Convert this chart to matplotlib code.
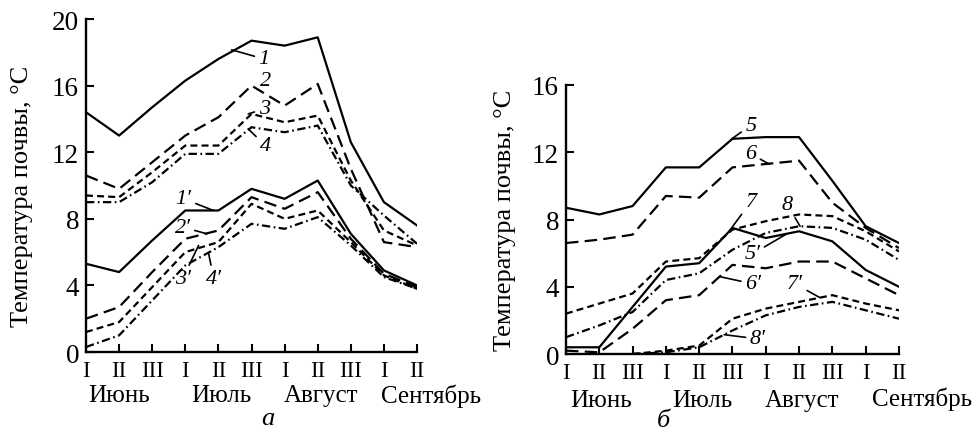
import numpy as np
import matplotlib
matplotlib.use("Agg")
import matplotlib.pyplot as plt

plt.rcParams['font.family'] = ['Liberation Serif', 'DejaVu Serif']
plt.rcParams['lines.scale_dashes'] = False

# decades of each month (x axis)
decades = ["I", "II", "III", "I", "II", "III", "I", "II", "III", "I", "II"]
months = ["Июнь", "Июль", "Август", "Сентябрь"]

# panel a: soil temperature, °C
a_1 = [14.4, 13.0, 14.7, 16.3, 17.6, 18.7, 18.4, 18.9, 12.6, 9.0, 7.6]
a_2 = [10.6, 9.8, 11.4, 13.0, 14.1, 16.0, 14.8, 16.1, 11.0, 6.6, 6.3]
a_3 = [9.4, 9.3, 10.8, 12.4, 12.4, 14.3, 13.8, 14.2, 10.3, 7.3, 6.4]
a_4 = [9.0, 9.0, 10.2, 11.9, 11.9, 13.5, 13.2, 13.6, 10.0, 8.2, 6.5]
a_1p = [5.3, 4.8, 6.7, 8.5, 8.5, 9.8, 9.2, 10.3, 7.1, 4.9, 4.0]
a_2p = [2.0, 2.7, 4.8, 6.8, 7.3, 9.3, 8.6, 9.6, 6.8, 4.7, 3.9]
a_3p = [1.2, 1.8, 3.9, 6.0, 6.6, 8.9, 8.0, 8.5, 6.6, 4.6, 3.8]
a_4p = [0.3, 1.0, 3.1, 5.2, 6.3, 7.7, 7.4, 8.1, 6.4, 4.5, 3.8]

# panel b
b_5 = [8.7, 8.3, 8.8, 11.1, 11.1, 12.8, 12.9, 12.9, 10.3, 7.6, 6.6]
b_6 = [6.6, 6.8, 7.1, 9.4, 9.3, 11.1, 11.3, 11.5, 9.0, 7.5, 6.3]
b_7 = [2.4, 3.0, 3.6, 5.5, 5.7, 7.4, 7.9, 8.3, 8.2, 7.3, 6.1]
b_8 = [1.0, 1.7, 2.5, 4.4, 4.8, 6.2, 7.2, 7.6, 7.5, 6.8, 5.6]
b_5p = [0.4, 0.4, 2.8, 5.2, 5.4, 7.5, 6.9, 7.3, 6.7, 5.0, 4.0]
b_6p = [0.2, 0.1, 1.5, 3.2, 3.5, 5.3, 5.1, 5.5, 5.5, 4.5, 3.5]
b_7p = [np.nan, np.nan, 0.0, 0.2, 0.5, 2.1, 2.7, 3.1, 3.5, 3.0, 2.6]
b_8p = [np.nan, np.nan, 0.0, 0.1, 0.4, 1.4, 2.3, 2.8, 3.1, 2.6, 2.1]

x = np.arange(len(decades))

solid = None
long_dash = (9, 4.5)
dash = (5, 3)
dash_dot = (6, 2.5, 1.2, 2.5)
styles = [solid, long_dash, dash, dash_dot]

fig = plt.figure(figsize=(9.73, 4.35), dpi=100)
ax_a = fig.add_axes([0.0884, 0.1885, 0.3402, 0.7655])
ax_b = fig.add_axes([0.5817, 0.1839, 0.3422, 0.6184])


def draw(ax, series, ymax):
    for i, ys in enumerate(series):
        st = styles[i % 4]
        if st is None:
            ax.plot(x, ys, color='black', lw=1.6)
        else:
            ax.plot(x, ys, color='black', lw=1.6, dashes=st)
    ax.set_xlim(0, 10)
    ax.set_ylim(0, ymax)
    ax.set_yticks(np.arange(0, ymax + 1, 4))
    ax.set_xticks(x)
    ax.set_xticklabels(decades)
    for s in ['top', 'right']:
        ax.spines[s].set_visible(False)
    for s in ['left', 'bottom']:
        ax.spines[s].set_linewidth(1.7)
    ax.tick_params(direction='in', length=6, width=1.5, labelsize=19.5, pad=5)
    ax.tick_params(axis='x', labelsize=16.5, pad=6)


draw(ax_a, [a_1, a_2, a_3, a_4, a_1p, a_2p, a_3p, a_4p], 20)
draw(ax_b, [b_5, b_6, b_7, b_8, b_5p, b_6p, b_7p, b_8p], 16)

# month names under the decades
for ax, off, month_x in [(ax_a, -31, [1, 4.1, 7.1]), (ax_b, -33, [1.05, 4.1, 7.1])]:
    for m, mx in zip(months[:3], month_x):
        ax.annotate(m, xy=(mx, 0), xycoords=('data', 'axes fraction'),
                    xytext=(0, off), textcoords='offset points',
                    ha='center', va='center', fontsize=18)
ax_a.annotate(months[3], xy=(8.9, 0), xycoords=('data', 'axes fraction'),
              xytext=(0, -31), textcoords='offset points',
              ha='left', va='center', fontsize=18)
fig.text(972 / 973, 1 - 399 / 435, months[3], ha='right', va='center', fontsize=18)

fig.text(22 / 973, 1 - 196 / 435, "Температура почвы, °C", rotation=90,
         ha='center', va='center', fontsize=19)
fig.text(505 / 973, 1 - 220 / 435, "Температура почвы, °C", rotation=90,
         ha='center', va='center', fontsize=19)
fig.text(268 / 973, 1 - 419 / 435, "а", style='italic', ha='center', va='center', fontsize=19)
fig.text(663 / 973, 1 - 421 / 435, "б", style='italic', ha='center', va='center', fontsize=19)

# curve labels with leader lines
lab_kw = dict(fontsize=16, style='italic', ha='center', va='center',
              arrowprops=dict(arrowstyle='-', lw=1.2, color='black', shrinkA=1, shrinkB=0))
labels_a = [("1", (4.40, 18.15), (5.38, 17.6)),
            ("3", (4.90, 14.3), (5.38, 14.6)),
            ("4", (4.90, 13.4), (5.42, 12.4)),
            ("1′", (3.85, 8.5), (2.95, 9.2)),
            ("2′", (3.65, 7.1), (2.92, 7.5)),
            ("3′", (3.40, 6.4), (2.92, 4.4)),
            ("4′", (3.70, 5.95), (3.86, 4.4))]
for t, xy, xyt in labels_a:
    ax_a.annotate(t, xy=xy, xytext=xyt, **lab_kw)
ax_a.text(5.42, 16.3, "2", fontsize=16, style='italic', ha='center', va='center')

labels_b = [("5", (4.98, 12.8), (5.55, 13.6)),
            ("6", (6.10, 11.3), (5.55, 11.9)),
            ("7", (4.90, 7.3), (5.55, 9.05)),
            ("8", (7.03, 7.6), (6.64, 8.9)),
            ("5′", (6.64, 7.16), (5.6, 5.95)),
            ("6′", (4.62, 4.6), (5.62, 4.17)),
            ("7′", (7.63, 3.35), (6.88, 4.17)),
            ("8′", (4.75, 1.15), (5.76, 0.9))]
for t, xy, xyt in labels_b:
    ax_b.annotate(t, xy=xy, xytext=xyt, **lab_kw)

fig.savefig("out.png", dpi=100)
